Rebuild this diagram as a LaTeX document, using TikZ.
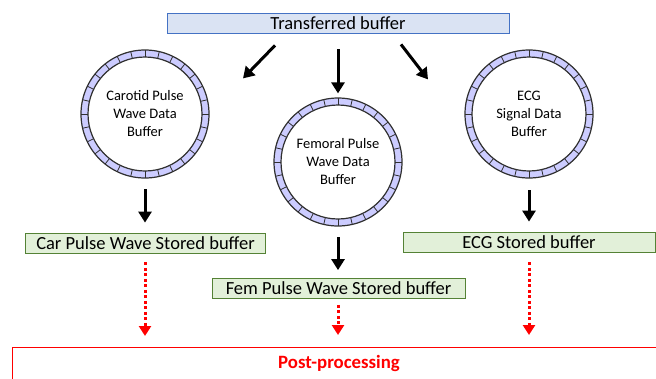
\documentclass[tikz,border=0pt]{standalone}
\usepackage{fontspec}
\setmainfont{Carlito}
\usetikzlibrary{arrows.meta}
\definecolor{xferfill}{HTML}{DAE3F3}
\definecolor{xferline}{HTML}{4472C4}
\definecolor{storefill}{HTML}{E2F0D9}
\definecolor{storeline}{HTML}{548235}
\definecolor{ringfill}{HTML}{CCCCFF}
\definecolor{ringline}{HTML}{303030}
\tikzset{
	topbox/.style={draw=xferline, fill=xferfill, line width=0.8pt, minimum width=342pt, minimum height=20pt, inner sep=0pt, font=\fontsize{18.5}{20}\selectfont},
	storebox/.style={draw=storeline, fill=storefill, line width=0.8pt, minimum height=20pt, inner sep=0pt, font=\fontsize{18.5}{20}\selectfont},
	ringbuf/.style={circle, minimum size=128pt, inner sep=0pt, align=center, font=\fontsize{14.5}{18}\selectfont},
	flowarrow/.style={-{Triangle[width=13pt,length=11pt]}, line width=3pt},
	postarrow/.style={-{Triangle[width=12pt,length=10pt]}, line width=3pt, red, dash pattern=on 3pt off 2.5pt}
}

\begin{document}
\begin{tikzpicture}[x=1pt,y=-1pt]
	\useasboundingbox (0,0) rectangle (656,378);
	\node[topbox] at (338,23) (xfer) {Transferred buffer};
	
	\node[ringbuf] at (145,114) (car-buf) {Carotid Pulse\\Wave Data\\Buffer};
	\node[ringbuf] at (338,162) (fem-buf) {Femoral Pulse\\Wave Data\\Buffer};
	\node[ringbuf] at (529,114) (ecg-buf) {ECG\\Signal Data\\Buffer};
	\foreach \buf in {car-buf,fem-buf,ecg-buf} {
		\fill[ringfill, even odd rule] (\buf.center) circle (64pt) (\buf.center) circle (57pt);
		\draw[ringline, line width=1.2pt] (\buf.center) circle (64pt) (\buf.center) circle (57pt);
		\foreach \i in {1,...,28}
			\draw[ringline, line width=0.8pt] ([shift={(\i*360/28:57pt)}]\buf.center) -- ([shift={(\i*360/28:64pt)}]\buf.center);
	}
	
	\node[storebox, minimum width=240pt] at (145.5,243) (car-store) {Car Pulse Wave Stored buffer};
	\node[storebox, minimum width=253pt] at (338.5,288.5) (fem-store) {Fem Pulse Wave Stored buffer};
	\node[storebox, minimum width=252pt] at (529,242) (ecg-store) {ECG Stored buffer};
	
	\node[draw=red, line width=1pt, anchor=north west, minimum width=700pt, minimum height=60pt, inner sep=0pt] at (12,347) (post) {};
	\node[red, font=\bfseries\fontsize{18.8}{20}\selectfont] at (339,363) (post-text) {Post-processing};
	
	\draw[flowarrow] ([xshift=-63pt,yshift=-12pt]xfer.south) -- ([xshift=-95pt,yshift=-45pt]xfer.south);
	\draw[flowarrow] ([yshift=-16pt]xfer.south) -- ([yshift=-60pt]xfer.south);
	\draw[flowarrow] ([xshift=63pt,yshift=-11pt]xfer.south) -- ([xshift=90pt,yshift=-46pt]xfer.south);
	
	\draw[flowarrow] ([yshift=-11pt]car-buf.south) -- ([yshift=10pt]car-buf.south |- car-store.north);
	\draw[flowarrow] ([yshift=-11pt]fem-buf.south) -- ([yshift=8pt]fem-buf.south |- fem-store.north);
	\draw[flowarrow] ([yshift=-12pt]ecg-buf.south) -- ([yshift=10pt]ecg-buf.south |- ecg-store.north);
	
	\draw[postarrow] ([yshift=-9pt]car-buf.south |- car-store.south) -- ([yshift=11pt]car-buf.south |- post.north);
	\draw[postarrow] ([yshift=-6pt]fem-buf.south |- fem-store.south) -- ([yshift=12pt]fem-buf.south |- post.north);
	\draw[postarrow] ([yshift=-10pt]ecg-buf.south |- ecg-store.south) -- ([yshift=12pt]ecg-buf.south |- post.north);
\end{tikzpicture}
\end{document}
